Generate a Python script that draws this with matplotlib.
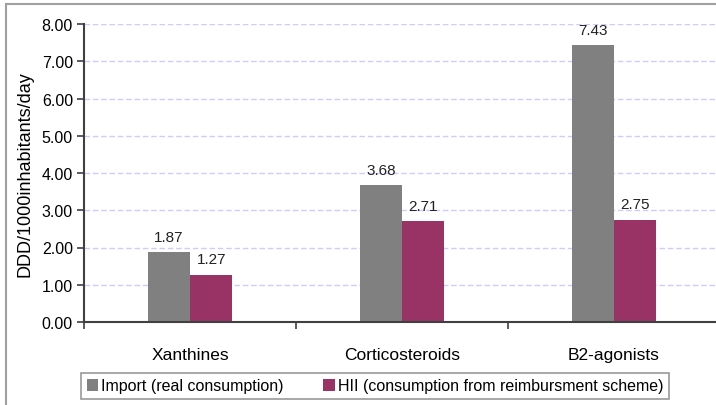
import numpy as np
import matplotlib.pyplot as plt
from matplotlib.patches import Rectangle

categories = ["Xanthines", "Corticosteroids", "B2-agonists"]
import_vals = [1.87, 3.68, 7.43]
hii_vals = [1.27, 2.71, 2.75]
series_names = ["Import (real consumption)", "HII (consumption from reimbursment scheme)"]
y_ticks = [0, 1, 2, 3, 4, 5, 6, 7, 8]

plt.rcParams['font.family'] = ['Liberation Sans', 'DejaVu Sans']

fig = plt.figure(figsize=(7.16, 4.06), dpi=100)
# outer chart frame (only left/top visible in crop)
fig.patches.append(Rectangle((6 / 716, -0.1), 2.0, 1.1 - 5 / 406, transform=fig.transFigure,
                             fill=False, edgecolor="#a0a0a0", linewidth=1.5))

ax = fig.add_axes([84 / 716, 83 / 406, 636 / 716, 298 / 406])
x = np.arange(len(categories))
w = 0.2
b1 = ax.bar(x - w / 2, import_vals, w, color="#808080", label=series_names[0])
b2 = ax.bar(x + w / 2, hii_vals, w, color="#993366", label=series_names[1])

for bars, vals in ((b1, import_vals), (b2, hii_vals)):
    for rect, v in zip(bars, vals):
        ax.text(rect.get_x() + rect.get_width() / 2, v + 0.22, f"{v:.2f}",
                ha="center", va="bottom", fontsize=11, color="#222222")

ax.set_xlim(-0.5, len(categories) - 0.5)
ax.set_ylim(0, 8)
ax.set_yticks(y_ticks)
ax.set_yticklabels([f"{t:.2f}" for t in y_ticks], fontsize=11.5)
ax.set_xticks(x)
ax.set_xticklabels(categories, fontsize=12.5)
ax.set_xticks(np.arange(len(categories) + 1) - 0.5, minor=True)
ax.tick_params(axis="x", which="major", length=0, pad=18)
ax.tick_params(axis="x", which="minor", length=5, width=1.2, color="#404040")
ax.tick_params(axis="y", length=5, width=1.2, color="#404040", pad=3)

ax.yaxis.grid(True, linestyle=(0, (4, 2)), color="#ccccff", linewidth=1)
ax.set_axisbelow(True)
for s in ("top", "right"):
    ax.spines[s].set_visible(False)
ax.spines["left"].set_color("#404040")
ax.spines["left"].set_linewidth(1.5)
ax.spines["bottom"].set_color("#404040")
ax.spines["bottom"].set_linewidth(1.5)

ax.set_ylabel("DDD/1000inhabitants/day", fontsize=13, labelpad=6)

leg = fig.legend(loc="center", bbox_to_anchor=(375 / 716, 1 - 387 / 406), ncol=2,
                 frameon=True, fancybox=False, fontsize=11.5, handlelength=0.7,
                 handleheight=0.7, handletextpad=0.2, columnspacing=2.5,
                 borderpad=0.35, borderaxespad=0)
leg.get_frame().set_edgecolor("#808080")
leg.get_frame().set_linewidth(1.2)

fig.savefig("out.png", dpi=100)
